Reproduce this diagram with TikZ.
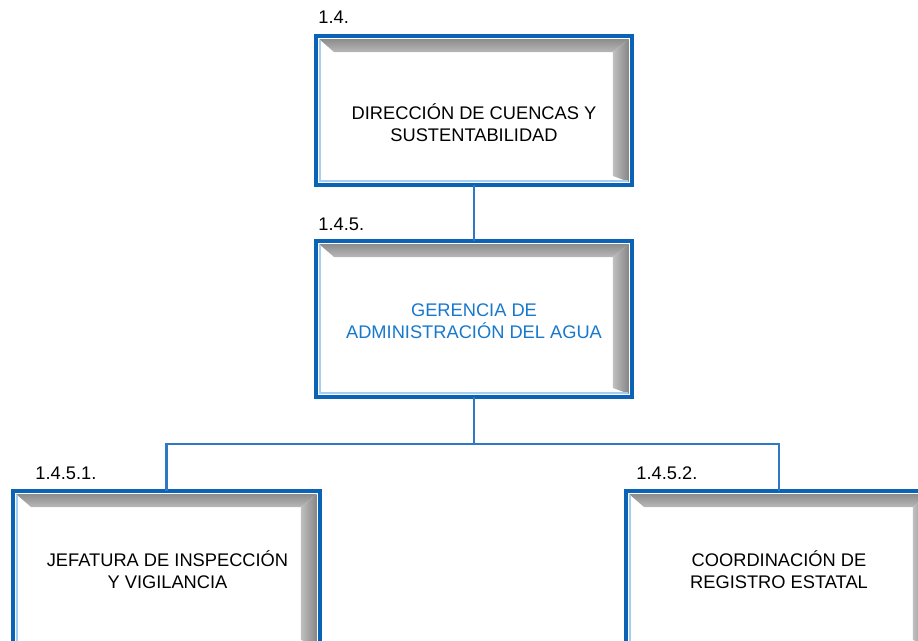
\documentclass[tikz,border=0pt]{standalone}
\usepackage{fontspec}
\setmainfont{Liberation Sans}
\usetikzlibrary{calc}
\definecolor{orgblue}{HTML}{0B63B5}
\definecolor{linkblue}{HTML}{2F78C4}
\definecolor{textblue}{HTML}{1878CC}
\definecolor{edgeblue}{HTML}{A4CFF2}
\tikzset{
  unitbox/.style={fill=white,draw=none,inner sep=0pt,outer sep=0pt},
  unittext/.style={align=center,font=\fontsize{10.4}{12.4}\selectfont},
  unitcode/.style={anchor=base west,inner sep=0pt,font=\fontsize{10.4}{12.4}\selectfont},
  link/.style={linkblue,line width=1.2pt}
}
% bevel and frame of one box
\newcommand{\boxbevel}[1]{
  \shade[top color=black!45,bottom color=black!28]
    ($(#1.north west)+(3,3)$) -- ($(#1.north east)+(-3,3)$) --
    ($(#1.north east)+(-19,16)$) -- ($(#1.north west)+(18,16)$) -- cycle;
  \shade[left color=black!25,right color=black!48]
    ($(#1.north east)+(-3,3)$) -- ($(#1.south east)+(-3,-3)$) --
    ($(#1.south east)+(-19,-9)$) -- ($(#1.north east)+(-19,16)$) -- cycle;
  \draw[edgeblue,line width=1pt]
    ($(#1.north west)+(4,4)$) -- ($(#1.south west)+(4,-4)$) -- ($(#1.south east)+(-4,-4)$);
  \draw[orgblue,line width=2pt] (#1.north west) rectangle (#1.south east);
}
\begin{document}
\begin{tikzpicture}[x=0.02cm,y=-0.02cm]
  \useasboundingbox (0,0) rectangle (918,641);
  \clip (0,0) rectangle (918,641);
  % boxes
  \node[unitbox,minimum width=6.32cm,minimum height=2.98cm] (dcs) at (474,110.5) {};
  \node[unitbox,minimum width=6.32cm,minimum height=3.12cm] (gaa) at (474,319) {};
  \node[unitbox,minimum width=6.14cm,minimum height=3.16cm] (jiv) at (166.5,570) {};
  \node[unitbox,minimum width=6.12cm,minimum height=3.16cm] (cre) at (779,570) {};
  \boxbevel{dcs}
  \boxbevel{gaa}
  \boxbevel{jiv}
  \boxbevel{cre}
  % texts
  \node[unittext] (dcstext) at ($(dcs.center)+(0,12)$) {DIRECCIÓN DE CUENCAS Y\\SUSTENTABILIDAD};
  \node[unittext,textblue] (gaatext) at ($(gaa.center)+(0,2)$) {GERENCIA DE\\ADMINISTRACIÓN DEL AGUA};
  \node[unittext] (jivtext) at ($(jiv.center)+(1,0)$) {JEFATURA DE INSPECCIÓN\\Y VIGILANCIA};
  \node[unittext] (cretext) at ($(cre.center)+(0,0)$) {COORDINACIÓN DE\\REGISTRO ESTATAL};
  \node[unitcode] (dcscode) at ($(dcs.north west)+(2,-13)$) {1.4.};
  \node[unitcode] (gaacode) at ($(gaa.north west)+(2,-11)$) {1.4.5.};
  \node[unitcode] (jivcode) at ($(jiv.north west)+(22,-12)$) {1.4.5.1.};
  \node[unitcode] (crecode) at ($(cre.north west)+(10,-12)$) {1.4.5.2.};
  % connectors
  \draw[link] (dcs.south) -- (gaa.north);
  \draw[link] (gaa.south) -- ++(0,47) coordinate (bus);
  \draw[link] (bus) -| (jiv.north);
  \draw[link] (bus) -| (cre.north);
\end{tikzpicture}
\end{document}
